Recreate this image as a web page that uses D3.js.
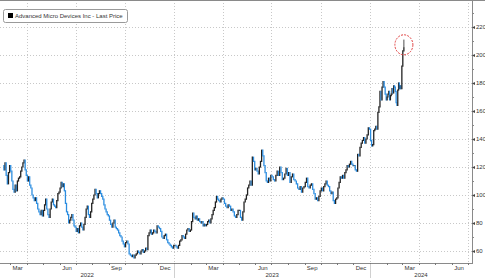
<!DOCTYPE html>
<html lang="en">
<head>
  <meta charset="UTF-8">
  <title>AMD - Last Price</title>
  <script src="https://d3js.org/d3.v7.min.js"></script>
  <style>
    body { margin: 0; background: #fff; }
    svg { display: block; font-family: "Liberation Sans", Arial, sans-serif; }
    .lbl { fill: #333; font-size: 6px; }
  </style>
</head>
<body>
  <svg width="485" height="278"></svg>

  <script>
    // Data: daily-ish closes, grouped by period (start date of each period)
    const periodStarts = [
      "2022-02-14", "2022-03-01", "2022-04-01", "2022-05-01", "2022-06-01", "2022-07-01",
      "2022-08-01", "2022-09-01", "2022-10-01", "2022-11-01", "2022-12-01", "2023-01-01",
      "2023-02-01", "2023-03-01", "2023-04-01", "2023-05-01", "2023-06-01", "2023-07-01",
      "2023-08-01", "2023-09-01", "2023-10-01", "2023-11-01", "2023-12-01", "2024-01-01",
      "2024-02-01", "2024-03-01"
    ];
    const lastPeriodEnd = "2024-03-05";

    const closes = [
      [121, 118, 123, 114, 108, 116, 121],
      [117, 110, 104, 102, 107, 103, 110, 112, 113, 117, 120, 123, 125, 118, 114],
      [110, 113, 107, 105, 100, 98, 96, 98, 94, 90, 88, 86, 89, 85],
      [89, 93, 97, 90, 86, 84, 90, 95, 97, 93, 92, 91, 96, 101, 102],
      [105, 109, 106, 108, 103, 94, 88, 86, 80, 82, 84, 86, 82, 78, 77],
      [74, 76, 73, 78, 80, 77, 75, 79, 84, 90, 92, 86, 84, 88, 94],
      [97, 100, 104, 101, 98, 101, 103, 101, 99, 97, 93, 90, 88, 86, 85],
      [82, 79, 77, 80, 82, 77, 76, 75, 73, 71, 70, 67, 65, 63],
      [66, 67, 65, 58, 57, 56, 57, 55, 57, 58, 60, 59, 58, 60],
      [61, 59, 60, 62, 61, 71, 73, 75, 72, 73, 75, 74, 73, 78],
      [77, 76, 74, 70, 69, 71, 72, 68, 66, 65, 64, 63, 62, 64],
      [64, 63, 62, 64, 67, 68, 71, 70, 69, 72, 75, 76, 74, 75],
      [81, 87, 84, 83, 85, 82, 83, 81, 80, 81, 78, 79, 78],
      [79, 81, 82, 80, 83, 86, 89, 91, 95, 99, 97, 96, 95, 97, 98],
      [97, 94, 92, 91, 93, 92, 89, 90, 88, 85, 84, 86, 89],
      [89, 84, 82, 88, 95, 97, 100, 105, 107, 110, 107, 127, 124, 118],
      [119, 117, 115, 120, 124, 132, 128, 121, 116, 110, 109, 112, 110, 114],
      [113, 111, 110, 114, 117, 114, 120, 116, 111, 112, 115, 119, 114],
      [116, 109, 113, 115, 111, 110, 108, 105, 104, 106, 102, 105, 106],
      [109, 112, 106, 105, 107, 108, 104, 101, 97, 98, 96, 99, 103],
      [105, 103, 106, 108, 110, 107, 106, 103, 101, 102, 96, 94, 97, 98],
      [105, 109, 113, 112, 114, 112, 116, 118, 121, 120, 122, 124, 122, 121],
      [121, 118, 117, 129, 128, 134, 137, 139, 141, 137, 140, 143, 148, 147],
      [139, 135, 136, 146, 147, 149, 147, 159, 163, 174, 168, 177, 181, 177, 172, 168],
      [170, 172, 174, 168, 171, 172, 176, 173, 178, 177, 174, 166, 164, 175, 180, 176, 178, 176, 192],
      [203, 205]
    ];
    const lastHigh = 211;

    const yTicks = [60, 80, 100, 120, 140, 160, 180, 200, 220];
    const monthLabels = ["Mar", "Jun", "Sep", "Dec"];
    const legendText = "Advanced Micro Devices Inc - Last Price";

    const parse = d3.timeParse("%Y-%m-%d");

    // flatten into points
    const points = [];
    periodStarts.forEach((s, k) => {
      const t0 = parse(s);
      const t1 = parse(k + 1 < periodStarts.length ? periodStarts[k + 1] : lastPeriodEnd);
      const n = closes[k].length;
      closes[k].forEach((c, i) => {
        points.push({ date: new Date(+t0 + (i + 0.5) * (t1 - t0) / n), close: c });
      });
    });

    const svg = d3.select("svg");
    const plot = { left: 0, right: 472, top: 0, bottom: 263 };

    const x = d3.scaleTime()
      .domain([parse("2022-02-10"), parse("2024-07-09")])
      .range([plot.left, plot.right]);
    const y = d3.scaleLinear()
      .domain([60, 220])
      .range([251, 27]);

    // grid
    svg.append("g").selectAll("line").data(yTicks).join("line")
      .attr("x1", plot.left).attr("x2", plot.right)
      .attr("y1", d => Math.round(y(d)) + 0.5).attr("y2", d => Math.round(y(d)) + 0.5)
      .attr("stroke", "#c8c8c8").attr("stroke-dasharray", "1,2");

    const quarters = d3.timeMonth.every(3).range(x.domain()[0], x.domain()[1])
      .filter(d => d.getMonth() % 3 === 0);
    svg.append("g").selectAll("line").data(quarters).join("line")
      .attr("x1", d => Math.round(x(d)) + 0.5).attr("x2", d => Math.round(x(d)) + 0.5)
      .attr("y1", plot.top).attr("y2", plot.bottom)
      .attr("stroke", "#c8c8c8").attr("stroke-dasharray", "1,2");

    // frame
    svg.append("line").attr("x1", 0).attr("x2", 485).attr("y1", 0.5).attr("y2", 0.5)
      .attr("stroke", "#8a8a8a");
    svg.append("line").attr("x1", plot.right + 0.5).attr("x2", plot.right + 0.5)
      .attr("y1", 0).attr("y2", plot.bottom).attr("stroke", "#8a8a8a");
    svg.append("line").attr("x1", plot.left).attr("x2", plot.right + 1)
      .attr("y1", plot.bottom + 0.5).attr("y2", plot.bottom + 0.5).attr("stroke", "#8a8a8a");

    // bottom axis: month ticks, quarter labels, years
    const months = d3.timeMonth.range(x.domain()[0], x.domain()[1]);
    svg.append("g").selectAll("line").data(months).join("line")
      .attr("x1", d => Math.round(x(d)) + 0.5).attr("x2", d => Math.round(x(d)) + 0.5)
      .attr("y1", plot.bottom).attr("y2", plot.bottom + 2)
      .attr("stroke", "#777");

    const labelMonths = months.filter(d => monthLabels.includes(d3.timeFormat("%b")(d)));
    svg.append("g").selectAll("text").data(labelMonths).join("text")
      .attr("class", "lbl")
      .attr("x", d => x(d3.timeDay.offset(d, 14)))
      .attr("y", 270)
      .attr("text-anchor", "middle")
      .text(d => d3.timeFormat("%b")(d));

    const years = [2022, 2023, 2024];
    svg.append("g").selectAll("text").data(years).join("text")
      .attr("class", "lbl")
      .attr("x", yr => {
        const a = Math.max(+x.domain()[0], +new Date(yr, 0, 1));
        const b = Math.min(+x.domain()[1], +new Date(yr + 1, 0, 1));
        return (x(a) + x(b)) / 2;
      })
      .attr("y", 277)
      .attr("text-anchor", "middle")
      .text(d => d);

    svg.append("g").selectAll("line").data([new Date(2023, 0, 1), new Date(2024, 0, 1)]).join("line")
      .attr("x1", d => Math.round(x(d)) + 0.5).attr("x2", d => Math.round(x(d)) + 0.5)
      .attr("y1", plot.bottom + 1).attr("y2", 278)
      .attr("stroke", "#d0d0d0");

    // right axis
    const yAxis = d3.axisRight(y).tickValues(yTicks).tickSize(0).tickPadding(4);
    const gy = svg.append("g")
      .attr("transform", `translate(${plot.right},0)`)
      .call(yAxis);
    gy.select(".domain").remove();
    gy.selectAll("text").attr("class", "lbl").attr("font-size", null).attr("font-family", null);
    gy.selectAll(".tick").append("path")
      .attr("d", "M0,0L3,-1.5L3,1.5Z")
      .attr("fill", "#444");
    svg.append("g").selectAll("line").data(d3.range(70, 240, 20)).join("line")
      .attr("x1", plot.right).attr("x2", plot.right + 2)
      .attr("y1", d => Math.round(y(d)) + 0.5).attr("y2", d => Math.round(y(d)) + 0.5)
      .attr("stroke", "#888");

    // candles: open = previous close
    const candles = svg.append("g");
    points.forEach((p, i) => {
      if (i === 0) return;
      const o = points[i - 1].close;
      const up = p.close >= o;
      candles.append("line")
        .attr("x1", x(p.date)).attr("x2", x(p.date))
        .attr("y1", y(o) + (up ? 0.6 : -0.6)).attr("y2", y(p.close) + (up ? -0.6 : 0.6))
        .attr("stroke", up ? "#222" : "#2b8de0")
        .attr("stroke-width", 1.3);
    });
    const last = points[points.length - 1];
    candles.append("line")
      .attr("x1", x(last.date)).attr("x2", x(last.date))
      .attr("y1", y(last.close)).attr("y2", y(lastHigh))
      .attr("stroke", "#222").attr("stroke-width", 0.8);

    // highlight circle around the latest move
    svg.append("ellipse")
      .attr("cx", x(last.date))
      .attr("cy", (y(last.close) + y(lastHigh)) / 2 + 1)
      .attr("rx", 9).attr("ry", 10)
      .attr("fill", "none")
      .attr("stroke", "#e04040")
      .attr("stroke-width", 1)
      .attr("stroke-dasharray", "2,1.2");

    // legend
    const lg = svg.append("g");
    lg.append("rect")
      .attr("x", 3.5).attr("y", 9.5).attr("width", 124).attr("height", 13)
      .attr("rx", 2)
      .attr("fill", "#fff").attr("stroke", "#9a9a9a");
    lg.append("rect")
      .attr("x", 8).attr("y", 13).attr("width", 5).attr("height", 5)
      .attr("fill", "#000");
    lg.append("text")
      .attr("class", "lbl")
      .attr("x", 15).attr("y", 18)
      .attr("fill", "#222")
      .text(legendText);
  </script>
</body>
</html>
